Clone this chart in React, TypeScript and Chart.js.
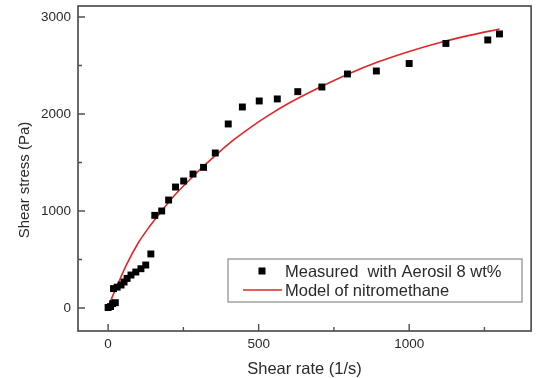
import React, { useEffect, useRef } from "react";
import { Chart, registerables } from "chart.js";

Chart.register(...registerables);

// ---- data ----
const measuredX = [0, 8, 15, 24, 18, 30, 43, 53, 63, 76, 92, 109, 125, 142, 155, 178, 201, 224, 251, 282, 317, 356, 399, 446, 502, 562, 630, 710, 795, 891, 1000, 1122, 1261, 1300];
const measuredY = [5, 15, 45, 55, 200, 215, 237, 268, 305, 340, 371, 405, 443, 557, 955, 1000, 1113, 1247, 1309, 1381, 1450, 1598, 1897, 2072, 2134, 2155, 2230, 2278, 2412, 2443, 2520, 2727, 2763, 2825];

const modelX = [0, 10, 30, 60, 100, 140, 170, 220, 270, 320, 370, 420, 470, 530, 600, 700, 800, 900, 1000, 1100, 1200, 1300];
const modelY = [0, 85, 230, 440, 670, 850, 970, 1160, 1320, 1470, 1610, 1740, 1855, 1980, 2110, 2270, 2415, 2540, 2645, 2735, 2810, 2876];

const xMajorTicks = [0, 500, 1000];
const xTickLabels = ["0", "500", "1000"];
const xMinorTicks = [250, 750, 1250];
const yMajorTicks = [0, 1000, 2000, 3000];
const yTickLabels = ["0", "1000", "2000", "3000"];
const yMinorTicks = [500, 1500, 2500];

const seriesNames = ["Measured  with Aerosil 8 wt%", "Model of nitromethane"];
const xTitle = "Shear rate (1/s)";
const yTitle = "Shear stress (Pa)";

const FONT = "'Liberation Sans', Arial, sans-serif";
const MARKER = "#000000";
const LINE = "#e0262a";
const FRAME = "#505050";
const TEXT = "#2a2a2a";

const framePlugin = {
  id: "frameTicksLegend",
  afterDatasetsDraw(chart: any) {
    const { ctx, chartArea: a, scales } = chart;
    const x = scales.x;
    const y = scales.y;
    ctx.save();
    // frame
    ctx.strokeStyle = FRAME;
    ctx.lineWidth = 1.7;
    ctx.strokeRect(a.left, a.top, a.right - a.left, a.bottom - a.top);
    // inward ticks
    ctx.lineWidth = 1.4;
    ctx.beginPath();
    xMajorTicks.forEach((v) => {
      const p = x.getPixelForValue(v);
      ctx.moveTo(p, a.bottom);
      ctx.lineTo(p, a.bottom - 7);
    });
    xMinorTicks.forEach((v) => {
      const p = x.getPixelForValue(v);
      ctx.moveTo(p, a.bottom);
      ctx.lineTo(p, a.bottom - 4);
    });
    yMajorTicks.forEach((v) => {
      const p = y.getPixelForValue(v);
      ctx.moveTo(a.left, p);
      ctx.lineTo(a.left + 7, p);
    });
    yMinorTicks.forEach((v) => {
      const p = y.getPixelForValue(v);
      ctx.moveTo(a.left, p);
      ctx.lineTo(a.left + 4, p);
    });
    ctx.stroke();

    // y-axis title
    ctx.fillStyle = TEXT;
    ctx.font = `15px ${FONT}`;
    ctx.textAlign = "center";
    ctx.textBaseline = "middle";
    ctx.save();
    ctx.translate(25, 180);
    ctx.rotate(-Math.PI / 2);
    ctx.fillText(yTitle, 0, 0);
    ctx.restore();

    // legend box
    const bx = 228, by = 259, bw = 294, bh = 43;
    ctx.fillStyle = "#ffffff";
    ctx.fillRect(bx, by, bw, bh);
    ctx.strokeStyle = "#8a8a8a";
    ctx.lineWidth = 1.2;
    ctx.strokeRect(bx, by, bw, bh);
    // row 1 marker
    ctx.fillStyle = MARKER;
    ctx.fillRect(262 - 3.5, 271 - 3.5, 7, 7);
    // row 2 line
    ctx.strokeStyle = LINE;
    ctx.lineWidth = 1.6;
    ctx.beginPath();
    ctx.moveTo(243, 290);
    ctx.lineTo(282, 290);
    ctx.stroke();
    ctx.fillStyle = TEXT;
    ctx.font = `16.5px ${FONT}`;
    ctx.textAlign = "left";
    ctx.textBaseline = "middle";
    ctx.fillText(seriesNames[0], 285, 272);
    ctx.fillText(seriesNames[1], 285, 291);
    ctx.restore();
  },
};

export default function App() {
  const ref = useRef<HTMLCanvasElement | null>(null);

  useEffect(() => {
    if (!ref.current) return;
    const chart = new Chart(ref.current, {
      type: "scatter",
      data: {
        datasets: [
          {
            label: seriesNames[0],
            data: measuredX.map((v, i) => ({ x: v, y: measuredY[i] })),
            pointStyle: "rect",
            pointRadius: 4.9,
            pointBackgroundColor: MARKER,
            pointBorderWidth: 0,
            showLine: false,
          },
          {
            label: seriesNames[1],
            data: modelX.map((v, i) => ({ x: v, y: modelY[i] })),
            showLine: true,
            borderColor: LINE,
            borderWidth: 1.6,
            pointRadius: 0,
            cubicInterpolationMode: "monotone",
            fill: false,
          },
        ],
      },
      options: {
        animation: false,
        responsive: false,
        devicePixelRatio: 1,
        layout: { padding: { left: 0, top: 6, right: 2, bottom: 0 } },
        plugins: {
          legend: { display: false },
          tooltip: { enabled: false },
        },
        scales: {
          x: {
            type: "linear",
            min: -100,
            max: 1405,
            grid: { display: false, drawTicks: false },
            border: { display: false },
            afterBuildTicks: (s: any) => {
              s.ticks = xMajorTicks.map((v) => ({ value: v }));
            },
            afterFit: (s: any) => {
              s.height = 47;
              s.paddingLeft = 0;
              s.paddingRight = 0;
            },
            ticks: {
              padding: 5,
              color: TEXT,
              font: { family: FONT, size: 13.5 },
              maxRotation: 0,
              callback: (_v: any, i: number) => xTickLabels[i],
            },
            title: {
              display: true,
              text: xTitle,
              color: TEXT,
              font: { family: FONT, size: 16.5, lineHeight: 1 },
              padding: { top: 0, bottom: 0 },
            },
          },
          y: {
            type: "linear",
            min: -237,
            max: 3113,
            grid: { display: false, drawTicks: false },
            border: { display: false },
            afterBuildTicks: (s: any) => {
              s.ticks = yMajorTicks.map((v) => ({ value: v }));
            },
            afterFit: (s: any) => {
              s.width = 78;
              s.paddingTop = 0;
              s.paddingBottom = 0;
            },
            ticks: {
              padding: 7,
              color: TEXT,
              font: { family: FONT, size: 13.5 },
              callback: (_v: any, i: number) => yTickLabels[i],
            },
          },
        },
      },
      plugins: [framePlugin],
    });
    return () => chart.destroy();
  }, []);

  return (
    <div style={{ position: "fixed", left: 0, top: 0, width: 536, height: 378, background: "#fff" }}>
      <canvas ref={ref} width={536} height={378} style={{ display: "block" }} />
    </div>
  );
}
